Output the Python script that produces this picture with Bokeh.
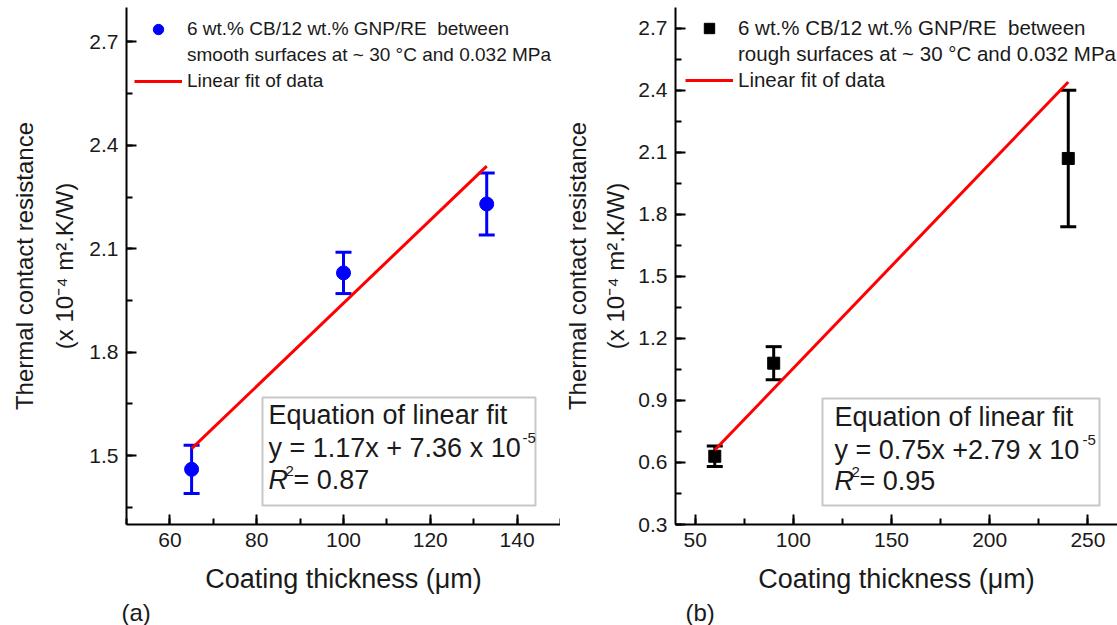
from bokeh.plotting import figure
from bokeh.models import (Range1d, SingleIntervalTicker, PrintfTickFormatter, Whisker, TeeHead,
                          ColumnDataSource, Legend, LegendItem, Label, BoxAnnotation,
                          LinearAxis, FixedTicker, Title)
from bokeh.layouts import row
from bokeh.embed import file_html
from bokeh.resources import INLINE

FONT = "Liberation Sans"
H = 625

# ---------------- data ----------------
a_thickness = [65, 100, 133]
a_resistance = [1.46, 2.03, 2.23]
a_error = [0.07, 0.06, 0.09]
a_fit_x = [65, 133]
a_fit_y = [1.52, 2.34]

b_thickness = [60, 90, 240]
b_resistance = [0.63, 1.08, 2.07]
b_error = [0.05, 0.08, 0.33]
b_fit_x = [60, 240]
b_fit_y = [0.66, 2.44]

a_legend = ["6 wt.% CB/12 wt.% GNP/RE  between",
            "smooth surfaces at ~ 30 \u00b0C and 0.032 MPa",
            "Linear fit of data"]
b_legend = ["6 wt.% CB/12 wt.% GNP/RE  between",
            "rough surfaces at ~ 30 \u00b0C and 0.032 MPa",
            "Linear fit of data"]
a_eq = ["Equation of linear fit", "y = 1.17x + 7.36 x 10", "-5", "R", "2", "= 0.87"]
b_eq = ["Equation of linear fit", "y = 0.75x +2.79 x 10", "-5", "R", "2", "= 0.95"]
x_label = "Coating thickness (\u03bcm)"
y_label1 = "Thermal contact resistance"
y_label2 = "(x 10\u207b\u2074 m\u00b2.K/W)"

BORDER_TOP = 7
BORDER_BOTTOM = 101
TXT = "#1a1a1a"


def make_panel(width, bl, br, xr, yr, xi, yi, sa, sb, tag, tag_offset):
    p = figure(width=width, height=H, x_range=Range1d(*xr), y_range=Range1d(*yr),
               output_backend="svg", toolbar_location=None,
               min_border_left=bl, min_border_right=br,
               min_border_top=BORDER_TOP, min_border_bottom=BORDER_BOTTOM)
    p.outline_line_color = None
    p.grid.visible = False
    p.background_fill_color = "white"
    p.border_fill_color = "white"
    for ax, iv, fmt in ((p.xaxis[0], xi, "%d"), (p.yaxis[0], yi, "%.1f")):
        ax.ticker = SingleIntervalTicker(interval=iv, num_minor_ticks=2)
        ax.formatter = PrintfTickFormatter(format=fmt)
        ax.major_tick_in = 10
        ax.major_tick_out = 0
        ax.minor_tick_in = 6
        ax.minor_tick_out = 0
        ax.axis_line_width = 2
        ax.major_tick_line_width = 2
        ax.minor_tick_line_width = 2
        ax.axis_line_color = "black"
        ax.major_label_text_font = FONT
        ax.major_label_text_font_size = "21px"
        ax.major_label_text_color = TXT
        ax.major_label_standoff = 8
        ax.axis_label_text_font = FONT
        ax.axis_label_text_font_style = "normal"
        ax.axis_label_text_color = TXT
    xa = p.xaxis[0]
    xa.axis_label = x_label
    xa.axis_label_text_font_size = "27px"
    xa.axis_label_standoff = 14
    ya = p.yaxis[0]
    ya.axis_label = y_label2
    ya.axis_label_text_font_size = "24px"
    ya.axis_label_standoff = sa
    ya2 = LinearAxis(ticker=FixedTicker(ticks=[]), axis_label=y_label1,
                     axis_line_color=None, major_tick_line_color=None, minor_tick_line_color=None,
                     major_tick_out=0, major_tick_in=0, minor_tick_out=0, minor_tick_in=0,
                     major_label_standoff=0, axis_label_standoff=sb,
                     axis_label_text_font=FONT, axis_label_text_font_size="24px",
                     axis_label_text_font_style="normal", axis_label_text_color=TXT)
    p.add_layout(ya2, "left")
    p.add_layout(Title(text=tag, align="left", offset=tag_offset, standoff=0,
                       text_font=FONT, text_font_size="24px", text_font_style="normal",
                       text_color=TXT), "below")
    return p


def lab(p, bl, cx, cy, text, size, align="left", style="normal"):
    # figure coords (from top-left of figure) -> frame-relative screen units
    frame_bottom = H - BORDER_BOTTOM
    p.add_layout(Label(x=cx - bl, y=frame_bottom - cy, x_units="screen", y_units="screen",
                       text=text, text_font=FONT, text_font_size=f"{size}px",
                       text_align=align, text_baseline="middle",
                       text_font_style=style, text_color=TXT))


def box(p, bl, l, r, t, b):
    frame_bottom = H - BORDER_BOTTOM
    p.add_layout(BoxAnnotation(left=l - bl, right=r - bl, top=frame_bottom - t, bottom=frame_bottom - b,
                               left_units="screen", right_units="screen",
                               top_units="screen", bottom_units="screen",
                               fill_color="white", fill_alpha=1.0,
                               line_color="#444444", line_width=2, level="underlay"))


def add_data(p, xs, ys, errs, fx, fy, color, marker, msize, legend_texts, legend_size, loc, bl,
             eq, eqbox, sup_x):
    src = ColumnDataSource(dict(x=xs, y=ys,
                                upper=[v + e for v, e in zip(ys, errs)],
                                lower=[v - e for v, e in zip(ys, errs)]))
    w = Whisker(base="x", upper="upper", lower="lower", source=src, dimension="height",
                line_width=3, line_color=color,
                upper_head=TeeHead(size=16, line_width=3, line_color=color),
                lower_head=TeeHead(size=16, line_width=3, line_color=color))
    p.add_layout(w)
    sc = p.scatter("x", "y", source=src, size=msize, marker=marker, color=color)
    ghost = p.scatter("x", "y", source=src, size=1, marker=marker, alpha=0)
    fit = p.line(fx, fy, line_color="red", line_width=3)
    leg = Legend(items=[LegendItem(label=legend_texts[0], renderers=[sc]),
                        LegendItem(label=legend_texts[1], renderers=[ghost]),
                        LegendItem(label=legend_texts[2], renderers=[fit])],
                 location=loc, padding=0, margin=0, spacing=0,
                 label_height=26, glyph_height=26, glyph_width=48, label_standoff=5,
                 label_text_font=FONT, label_text_font_size=legend_size, label_text_color=TXT,
                 border_line_color=None, background_fill_alpha=0)
    p.add_layout(leg)
    # equation box
    l, r, t, b, tx, rows = eqbox
    box(p, bl, l, r, t, b)
    lab(p, bl, tx, rows[0], eq[0], 27)
    lab(p, bl, tx, rows[1], eq[1], 27)
    lab(p, bl, sup_x, rows[1] - 10, eq[2], 15)
    lab(p, bl, tx, rows[2], eq[3], 27, style="italic")
    lab(p, bl, tx + 17, rows[2] - 9, eq[4], 15)
    lab(p, bl, tx + 25, rows[2], eq[5], 27)


# ---------------- panel (a) ----------------
BL_A = 126
pa = make_panel(560, BL_A, 0, (50, 150), (1.3, 2.8), 20, 0.3, 8, 11, "(a)", -5)
add_data(pa, a_thickness, a_resistance, a_error, a_fit_x, a_fit_y, "#0000ff", "circle", 14,
         a_legend, "19px", (8, 430), BL_A, a_eq, (262, 535, 397, 505, 268, (414, 447, 479)), 522)

# ---------------- panel (b) ----------------
BL_B = 113
pb = make_panel(557, BL_B, 0, (40, 265.07), (0.3, 2.8), 50, 0.3, 6, 9, "(b)", 10)
add_data(pb, b_thickness, b_resistance, b_error, b_fit_x, b_fit_y, "black", "square", 12,
         b_legend, "20.5px", (10, 431), BL_B, b_eq, (260, 537, 398, 505, 272, (416, 449, 480)), 520)

layout = row(pa, pb)
open("out.html", "w").write(file_html(layout, INLINE))
